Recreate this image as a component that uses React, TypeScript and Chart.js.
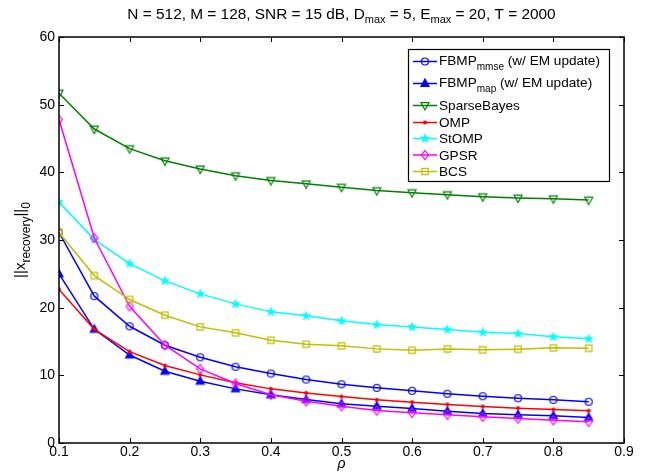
import React, { useEffect, useRef } from "react";
import { Chart, registerables } from "chart.js";

Chart.register(...registerables);

const FONT = '"Liberation Sans", Arial, Helvetica, sans-serif';

// ---- data ----
const rho = [0.1, 0.15, 0.2, 0.25, 0.3, 0.35, 0.4, 0.45, 0.5, 0.55, 0.6, 0.65, 0.7, 0.75, 0.8, 0.85];
const fbmpMmse = [31.1, 21.7, 17.25, 14.45, 12.67, 11.26, 10.27, 9.38, 8.69, 8.15, 7.71, 7.27, 6.91, 6.62, 6.38, 6.09];
const fbmpMap = [25.0, 16.8, 13.0, 10.6, 9.13, 8.0, 7.12, 6.43, 5.79, 5.44, 5.1, 4.7, 4.36, 4.17, 4.02, 3.77];
const sparseBayes = [51.7, 46.4, 43.5, 41.7, 40.5, 39.5, 38.8, 38.3, 37.8, 37.3, 37.0, 36.7, 36.4, 36.2, 36.1, 35.9];
const omp = [22.7, 16.8, 13.5, 11.45, 10.07, 8.9, 8.0, 7.4, 6.87, 6.38, 6.03, 5.69, 5.39, 5.14, 4.95, 4.76];
const stomp = [35.6, 30.06, 26.5, 23.96, 22.04, 20.56, 19.38, 18.79, 18.05, 17.5, 17.16, 16.77, 16.37, 16.17, 15.69, 15.39];
const gpsr = [47.8, 30.3, 20.2, 14.45, 10.96, 8.79, 7.12, 6.17, 5.44, 4.8, 4.46, 4.17, 3.87, 3.62, 3.37, 3.13];
const bcs = [31.1, 24.74, 21.2, 18.88, 17.16, 16.28, 15.18, 14.59, 14.36, 13.91, 13.7, 13.91, 13.77, 13.86, 14.06, 14.0];

const xTicks = [0.1, 0.2, 0.3, 0.4, 0.5, 0.6, 0.7, 0.8, 0.9];
const yTicks = [0, 10, 20, 30, 40, 50, 60];
const xTickLabels = ["0.1", "0.2", "0.3", "0.4", "0.5", "0.6", "0.7", "0.8", "0.9"];
const yTickLabels = ["0", "10", "20", "30", "40", "50", "60"];

type Seg = { t: string; sub?: boolean };

const seriesLabels: Seg[][] = [
  [{ t: "FBMP" }, { t: "mmse", sub: true }, { t: " (w/ EM update)" }],
  [{ t: "FBMP" }, { t: "map", sub: true }, { t: " (w/ EM update)" }],
  [{ t: "SparseBayes" }],
  [{ t: "OMP" }],
  [{ t: "StOMP" }],
  [{ t: "GPSR" }],
  [{ t: "BCS" }],
];
const seriesValues = [fbmpMmse, fbmpMap, sparseBayes, omp, stomp, gpsr, bcs];
const seriesColors = ["#0000ff", "#0000ff", "#008000", "#ff0000", "#00ffff", "#ff00ff", "#bfbf00"];
const seriesMarkers = ["circle", "triUp", "triDown", "dot", "star", "diamond", "square"];

const titleSegs: Seg[] = [
  { t: "N = 512, M = 128, SNR = 15 dB, D" },
  { t: "max", sub: true },
  { t: " = 5, E" },
  { t: "max", sub: true },
  { t: " = 20, T = 2000" },
];
const yLabelSegs: Seg[] = [{ t: "||x" }, { t: "recovery", sub: true }, { t: "||" }, { t: "0", sub: true }];
const xLabel = "ρ";

// ---- drawing helpers ----
function drawMarker(ctx: CanvasRenderingContext2D, kind: string, cx: number, cy: number, color: string) {
  ctx.save();
  ctx.strokeStyle = color;
  ctx.fillStyle = color;
  ctx.lineWidth = 1.2;
  ctx.lineJoin = "miter";
  ctx.beginPath();
  switch (kind) {
    case "circle":
      ctx.arc(cx, cy, 3.5, 0, Math.PI * 2);
      ctx.stroke();
      break;
    case "triUp":
      ctx.moveTo(cx, cy - 4.5);
      ctx.lineTo(cx + 4, cy + 2.8);
      ctx.lineTo(cx - 4, cy + 2.8);
      ctx.closePath();
      ctx.fill();
      ctx.stroke();
      break;
    case "triDown":
      ctx.moveTo(cx, cy + 4.5);
      ctx.lineTo(cx + 4, cy - 2.8);
      ctx.lineTo(cx - 4, cy - 2.8);
      ctx.closePath();
      ctx.stroke();
      break;
    case "dot":
      ctx.arc(cx, cy, 2, 0, Math.PI * 2);
      ctx.fill();
      break;
    case "star": {
      for (let i = 0; i < 10; i++) {
        const r = i % 2 === 0 ? 5.5 : 2.3;
        const a = -Math.PI / 2 + (i * Math.PI) / 5;
        const px = cx + r * Math.cos(a);
        const py = cy + r * Math.sin(a);
        if (i === 0) ctx.moveTo(px, py);
        else ctx.lineTo(px, py);
      }
      ctx.closePath();
      ctx.fill();
      break;
    }
    case "diamond":
      ctx.moveTo(cx, cy - 4.5);
      ctx.lineTo(cx + 3.5, cy);
      ctx.lineTo(cx, cy + 4.5);
      ctx.lineTo(cx - 3.5, cy);
      ctx.closePath();
      ctx.stroke();
      break;
    case "square":
      ctx.rect(cx - 3.2, cy - 3.2, 6.4, 6.4);
      ctx.stroke();
      break;
  }
  ctx.restore();
}

function makeMarkerCanvas(kind: string, color: string) {
  const c = document.createElement("canvas");
  c.width = 16;
  c.height = 16;
  const ctx = c.getContext("2d")!;
  drawMarker(ctx, kind, 8, 8, color);
  return c;
}

function richWidth(ctx: CanvasRenderingContext2D, segs: Seg[], size: number, sub: number) {
  let w = 0;
  for (const s of segs) {
    ctx.font = `${s.sub ? sub : size}px ${FONT}`;
    w += ctx.measureText(s.t).width;
  }
  return w;
}

function drawRich(
  ctx: CanvasRenderingContext2D,
  segs: Seg[],
  x: number,
  y: number,
  size: number,
  sub: number,
  subDy: number
) {
  let cx = x;
  ctx.textAlign = "left";
  ctx.textBaseline = "alphabetic";
  ctx.fillStyle = "#000";
  for (const s of segs) {
    ctx.font = `${s.sub ? sub : size}px ${FONT}`;
    ctx.fillText(s.t, cx, s.sub ? y + subDy : y);
    cx += ctx.measureText(s.t).width;
  }
}

const decorPlugin = {
  id: "decor",
  afterDraw(chart: any) {
    const ctx: CanvasRenderingContext2D = chart.ctx;
    const { left, right, top, bottom } = chart.chartArea;
    const xs = chart.scales.x;
    const ys = chart.scales.y;
    ctx.save();
    // frame
    ctx.strokeStyle = "#000";
    ctx.lineWidth = 1.5;
    ctx.strokeRect(left, top, right - left, bottom - top);
    // inward ticks
    ctx.lineWidth = 1;
    ctx.beginPath();
    for (const v of yTicks) {
      const y = Math.round(ys.getPixelForValue(v)) + 0.5;
      ctx.moveTo(left, y);
      ctx.lineTo(left + 5, y);
      ctx.moveTo(right, y);
      ctx.lineTo(right - 5, y);
    }
    for (const v of xTicks) {
      const x = Math.round(xs.getPixelForValue(v)) + 0.5;
      ctx.moveTo(x, bottom);
      ctx.lineTo(x, bottom - 5);
      ctx.moveTo(x, top);
      ctx.lineTo(x, top + 5);
    }
    ctx.stroke();

    // title
    const tSize = 15.4;
    const tw = richWidth(ctx, titleSegs, tSize, 11);
    drawRich(ctx, titleSegs, (left + right) / 2 - tw / 2, 19, tSize, 11, 4);

    // y label (rotated)
    ctx.save();
    ctx.translate(20, (top + bottom) / 2);
    ctx.rotate(-Math.PI / 2);
    const yw = richWidth(ctx, yLabelSegs, 15, 12);
    drawRich(ctx, yLabelSegs, -yw / 2, 5, 15, 12, 5);
    ctx.restore();

    // x label
    ctx.font = `italic 14px ${FONT}`;
    ctx.textAlign = "center";
    ctx.textBaseline = "alphabetic";
    ctx.fillStyle = "#000";
    ctx.fillText(xLabel, (left + right) / 2, 468);

    // legend
    const lx0 = 408.5, ly0 = 49.5, lx1 = 609.5, ly1 = 181.5;
    ctx.fillStyle = "#fff";
    ctx.fillRect(lx0, ly0, lx1 - lx0, ly1 - ly0);
    ctx.strokeStyle = "#000";
    ctx.lineWidth = 1.2;
    ctx.strokeRect(lx0, ly0, lx1 - lx0, ly1 - ly0);
    const baselines = [64.5, 86.5, 110, 127, 143, 159.5, 176];
    seriesLabels.forEach((segs, i) => {
      const hasSub = segs.some((s) => s.sub);
      const ly = baselines[i] - (hasSub ? 3 : 4.5);
      ctx.strokeStyle = seriesColors[i];
      ctx.lineWidth = 1.5;
      ctx.beginPath();
      ctx.moveTo(413, ly);
      ctx.lineTo(437, ly);
      ctx.stroke();
      drawMarker(ctx, seriesMarkers[i], 425, ly, seriesColors[i]);
      drawRich(ctx, segs, 439, baselines[i], 13.6, 10, 5);
    });
    ctx.restore();
  },
};

export default function App() {
  const ref = useRef<HTMLCanvasElement>(null);
  useEffect(() => {
    if (!ref.current) return;
    const datasets = seriesValues.map((vals, i) => ({
      label: seriesLabels[i].map((s) => s.t).join(""),
      data: rho.map((x, j) => ({ x, y: vals[j] })),
      borderColor: seriesColors[i],
      backgroundColor: seriesColors[i],
      borderWidth: 1.5,
      pointStyle: makeMarkerCanvas(seriesMarkers[i], seriesColors[i]) as any,
      pointRadius: 4,
      tension: 0,
      order: 6 - i,
    }));
    const chart = new Chart(ref.current, {
      type: "line",
      data: { datasets },
      options: {
        animation: false,
        responsive: false,
        devicePixelRatio: 1,
        layout: { padding: { top: 37, right: 31, left: 0, bottom: 0 } },
        plugins: {
          legend: { display: false },
          title: { display: false },
          tooltip: { enabled: false },
        },
        scales: {
          x: {
            type: "linear",
            min: 0.1,
            max: 0.9,
            afterBuildTicks: (s: any) => {
              s.ticks = xTicks.map((v) => ({ value: v }));
            },
            ticks: {
              autoSkip: false,
              maxRotation: 0,
              color: "#000",
              font: { family: FONT, size: 14 },
              padding: 1,
              callback: (v: any) => xTickLabels[xTicks.findIndex((t) => Math.abs(t - v) < 1e-6)] ?? "",
            },
            grid: { display: false, drawTicks: false },
            border: { display: false },
            afterFit: (s: any) => {
              s.height = 31;
            },
          },
          y: {
            type: "linear",
            min: 0,
            max: 60,
            afterBuildTicks: (s: any) => {
              s.ticks = yTicks.map((v) => ({ value: v }));
            },
            ticks: {
              color: "#000",
              font: { family: FONT, size: 14 },
              padding: 4,
              callback: (v: any) => yTickLabels[yTicks.indexOf(v)] ?? "",
            },
            grid: { display: false, drawTicks: false },
            border: { display: false },
            afterFit: (s: any) => {
              s.width = 59;
            },
          },
        },
      },
      plugins: [decorPlugin],
    });
    return () => chart.destroy();
  }, []);
  return (
    <canvas
      ref={ref}
      width={655}
      height={474}
      style={{ position: "fixed", left: 0, top: 0, width: 655, height: 474, background: "#fff" }}
    />
  );
}
